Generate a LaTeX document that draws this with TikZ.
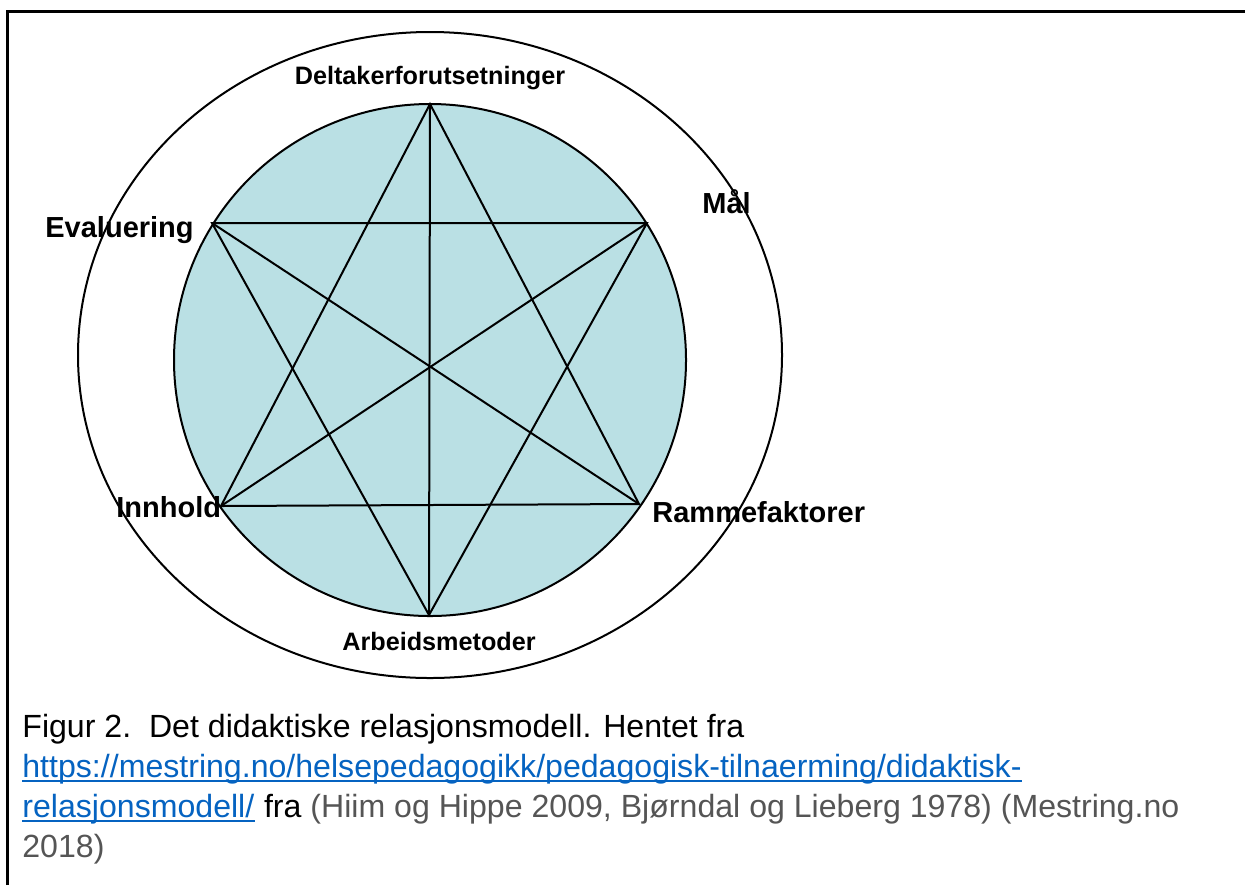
\documentclass[tikz,border=0pt]{standalone}
\usepackage{fontspec}
\setmainfont{Liberation Sans}
\definecolor{innerfill}{RGB}{186,224,228}
\definecolor{linkblue}{RGB}{5,99,193}
\definecolor{citegray}{RGB}{85,85,85}
\begin{document}
\begin{tikzpicture}[x=0.5pt,y=-0.5pt,
  starline/.style={line width=1pt,black},
  ringline/.style={line width=1pt,black},
  sidelabel/.style={inner sep=0pt,font=\bfseries\fontsize{14.5pt}{17pt}\selectfont},
  polelabel/.style={inner sep=0pt,font=\bfseries\fontsize{12.6pt}{15pt}\selectfont},
  captext/.style={inner sep=0pt,anchor=base west,font=\fontsize{16.05pt}{19pt}\selectfont},
  linkline/.style={line width=1pt,linkblue}]
\useasboundingbox (0,0) rectangle (1245,885);
% frame
\draw[line width=1.5pt] (7,885) -- (7,11) -- (1245,11);
% outer ellipse and inner disc
\draw[ringline] (430,355) ellipse [x radius=352, y radius=323];
\filldraw[ringline,fill=innerfill] (430,360) circle [radius=256];
% vertices
\coordinate (T) at (430,104);
\coordinate (M) at (647,223);
\coordinate (R) at (639,504);
\coordinate (B) at (429,615);
\coordinate (I) at (221,506);
\coordinate (E) at (212,223);
% star lines
\draw[starline] (T) -- (I) -- (R) -- cycle;
\draw[starline] (E) -- (M) -- (B) -- cycle;
\draw[starline] (T) -- (B);
\draw[starline] (E) -- (R);
\draw[starline] (M) -- (I);
% labels
\node[polelabel,anchor=base] (lT) at (430,84) {Deltakerforutsetninger};
\node[polelabel,anchor=base] (lB) at (439,650) {Arbeidsmetoder};
\node[sidelabel,anchor=base west] (lE) at (45,237) {Evaluering};
\node[sidelabel,anchor=base west] (lM) at (702,213) {Mål};
\node[sidelabel,anchor=base west] (lI) at (116,517) {Innhold};
\node[sidelabel,anchor=base west] (lR) at (652,522) {Rammefaktorer};
% caption
\node[captext] (c1) at (22,737) {Figur 2.\ \ Det didaktiske relasjonsmodell. Hentet fra};
\node[captext,text=linkblue] (c2) at (22,777) {https://mestring.no/helsepedagogikk/pedagogisk-tilnaerming/didaktisk-};
\node[captext,text=linkblue] (c3a) at (22,817) {relasjonsmodell/};
\node[captext] (c3b) at (c3a.base east) {\ fra \textcolor{citegray}{(Hiim og Hippe 2009, Bjørndal og Lieberg 1978) (Mestring.no}};
\node[captext,text=citegray] (c4) at (22,857) {2018)};
\draw[linkline] ([yshift=-2pt]c2.base west) -- ([yshift=-2pt]c2.base east);
\draw[linkline] ([yshift=-2pt]c3a.base west) -- ([yshift=-2pt]c3a.base east);
\end{tikzpicture}
\end{document}
